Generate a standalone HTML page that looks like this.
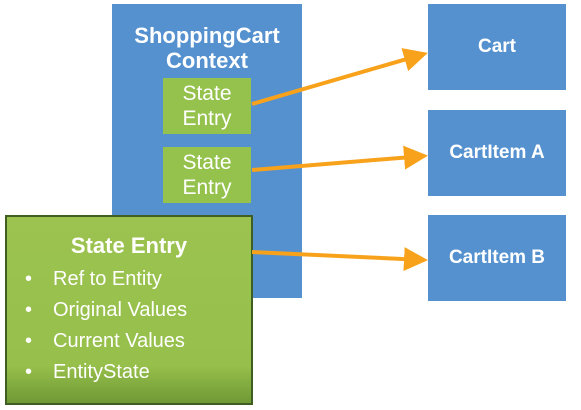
<!DOCTYPE html>
<html><head><style>
body{margin:0;width:581px;height:410px;background:#fff;position:relative;overflow:hidden;font-family:"Liberation Sans",sans-serif;}
.b{position:absolute;background:#5591cf;color:#fff;font-weight:bold;display:flex;align-items:center;justify-content:center;text-align:center;}
.g{position:absolute;background:#94c24d;color:#fff;font-size:21px;line-height:25px;text-align:center;display:flex;align-items:center;justify-content:center;}
</style></head><body>
<div class="b" style="left:112px;top:4px;width:190px;height:294px;align-items:flex-start;font-size:22px;line-height:25px;padding-top:19px;box-sizing:border-box;">ShoppingCart<br>Context</div>
<div class="g" style="left:163px;top:78px;width:88px;height:56px;">State<br>Entry</div>
<div class="g" style="left:163px;top:147px;width:88px;height:56px;">State<br>Entry</div>
<div class="b" style="left:428px;top:4px;width:138px;height:86px;font-size:19px;">Cart</div>
<div class="b" style="left:428px;top:110px;width:138px;height:86px;font-size:19px;">CartItem A</div>
<div class="b" style="left:428px;top:215px;width:138px;height:86px;font-size:19px;">CartItem B</div>
<div style="position:absolute;left:5px;top:215px;width:244px;height:186px;border:2px solid #3f5e22;background:linear-gradient(#9cc350 0%,#96bf4b 80%,#6f9a35 100%);color:#fff;">
<div style="text-align:center;font-weight:bold;font-size:22px;margin-top:16px;">State Entry</div>
<div style="font-size:20px;line-height:31px;margin-top:5px;">
<div><span style="display:inline-block;width:46px;padding-left:18px;box-sizing:border-box;">•</span>Ref to Entity</div>
<div><span style="display:inline-block;width:46px;padding-left:18px;box-sizing:border-box;">•</span>Original Values</div>
<div><span style="display:inline-block;width:46px;padding-left:18px;box-sizing:border-box;">•</span>Current Values</div>
<div><span style="display:inline-block;width:46px;padding-left:18px;box-sizing:border-box;">•</span>EntityState</div>
</div></div>
<svg width="581" height="410" style="position:absolute;left:0;top:0">
<defs><marker id="a" markerWidth="6" markerHeight="6" refX="5" refY="3" orient="auto" markerUnits="strokeWidth"><path d="M0,0 L6,3 L0,6 z" fill="#f8a21c"/></marker></defs>
<g stroke="#f8a21c" stroke-width="4" fill="none">
<line x1="252" y1="104" x2="424" y2="54" marker-end="url(#a)"/>
<line x1="252" y1="170" x2="424" y2="156" marker-end="url(#a)"/>
<line x1="252" y1="252" x2="424" y2="260" marker-end="url(#a)"/>
</g></svg>
</body></html>
